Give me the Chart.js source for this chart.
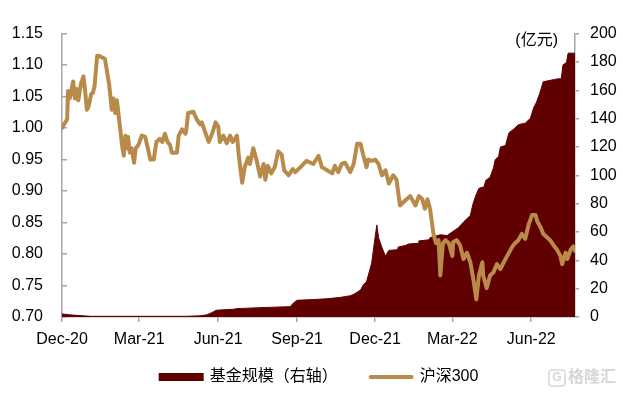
<!DOCTYPE html>
<html lang="zh">
<head>
<meta charset="UTF-8">
<title>基金规模与沪深300</title>
<script src="https://cdn.jsdelivr.net/npm/chart.js@4.4.0/dist/chart.umd.min.js"></script>
<style>
  body { margin: 0; background: #fff; }
  canvas { display: block; }
</style>
</head>
<body>
<canvas id="chart" width="623" height="397"></canvas>
<script>
// x axis ticks (month starts) and their labels
const tickDates = ['2020-12-01', '2021-03-01', '2021-06-01', '2021-09-01', '2021-12-01', '2022-03-01', '2022-06-01'];
const tickLabels = ['Dec-20', 'Mar-21', 'Jun-21', 'Sep-21', 'Dec-21', 'Mar-22', 'Jun-22'];

const seriesNames = ['基金规模（右轴）', '沪深300'];
const unitLabel = '(亿元)';

// 沪深300 (normalised, left axis)
const hsDates = [
  '2020-12-01', '2020-12-07', '2020-12-08', '2020-12-10', '2020-12-14', '2020-12-16', '2020-12-18', '2020-12-20',
  '2020-12-23', '2020-12-26', '2020-12-28', '2020-12-30', '2021-01-01', '2021-01-04', '2021-01-06', '2021-01-08',
  '2021-01-11', '2021-01-14', '2021-01-20', '2021-01-22', '2021-01-25', '2021-01-28', '2021-01-30', '2021-02-01',
  '2021-02-03', '2021-02-06', '2021-02-09', '2021-02-11', '2021-02-13', '2021-02-15', '2021-02-16', '2021-02-18',
  '2021-02-20', '2021-02-23', '2021-02-25', '2021-02-28', '2021-03-04', '2021-03-08', '2021-03-11', '2021-03-14',
  '2021-03-18', '2021-03-21', '2021-03-25', '2021-03-28', '2021-03-31', '2021-04-03', '2021-04-06', '2021-04-08',
  '2021-04-14', '2021-04-16', '2021-04-20', '2021-04-24', '2021-04-25', '2021-04-27', '2021-05-03', '2021-05-07',
  '2021-05-11', '2021-05-13', '2021-05-17', '2021-05-21', '2021-05-25', '2021-05-29', '2021-06-01', '2021-06-03',
  '2021-06-07', '2021-06-11', '2021-06-15', '2021-06-18', '2021-06-23', '2021-06-25', '2021-06-29', '2021-07-02',
  '2021-07-06', '2021-07-08', '2021-07-12', '2021-07-16', '2021-07-20', '2021-07-24', '2021-07-26', '2021-07-29',
  '2021-08-02', '2021-08-06', '2021-08-10', '2021-08-14', '2021-08-17', '2021-08-22', '2021-08-27', '2021-08-30',
  '2021-09-05', '2021-09-12', '2021-09-20', '2021-09-26', '2021-09-30', '2021-10-06', '2021-10-12', '2021-10-15',
  '2021-10-19', '2021-10-23', '2021-10-27', '2021-11-02', '2021-11-06', '2021-11-10', '2021-11-14', '2021-11-17',
  '2021-11-21', '2021-11-23', '2021-11-27', '2021-12-01', '2021-12-05', '2021-12-09', '2021-12-13', '2021-12-17',
  '2021-12-22', '2021-12-26', '2021-12-28', '2021-12-30', '2022-01-05', '2022-01-11', '2022-01-17', '2022-01-21',
  '2022-01-25', '2022-01-28', '2022-01-31', '2022-02-03', '2022-02-07', '2022-02-10', '2022-02-13', '2022-02-15',
  '2022-02-18', '2022-02-21', '2022-02-25', '2022-03-01', '2022-03-02', '2022-03-06', '2022-03-10', '2022-03-14',
  '2022-03-18', '2022-03-22', '2022-03-26', '2022-03-29', '2022-04-01', '2022-04-05', '2022-04-06', '2022-04-10',
  '2022-04-14', '2022-04-18', '2022-04-22', '2022-04-26', '2022-04-30', '2022-05-04', '2022-05-10', '2022-05-13',
  '2022-05-17', '2022-05-21', '2022-05-25', '2022-05-29', '2022-06-02', '2022-06-06', '2022-06-08', '2022-06-12',
  '2022-06-15', '2022-06-19', '2022-06-23', '2022-06-27', '2022-07-01', '2022-07-05', '2022-07-07', '2022-07-11',
  '2022-07-13', '2022-07-17', '2022-07-20', '2022-07-22'
];
const hsValues = [
  1.000, 1.014, 1.059, 1.047, 1.074, 1.047, 1.062, 1.044,
  1.070, 1.082, 1.059, 1.029, 1.034, 1.054, 1.056, 1.067,
  1.115, 1.114, 1.110, 1.094, 1.069, 1.029, 1.047, 1.024,
  1.044, 1.009, 0.973, 0.956, 0.988, 0.968, 0.986, 0.961,
  0.968, 0.945, 0.968, 0.973, 0.988, 0.986, 0.968, 0.950,
  0.950, 0.978, 0.983, 0.978, 0.991, 0.978, 0.973, 0.961,
  0.961, 0.988, 0.998, 0.991, 0.998, 1.024, 1.026, 1.014,
  1.006, 1.009, 0.993, 0.978, 0.991, 1.009, 1.003, 0.978,
  0.988, 0.976, 0.988, 0.978, 0.988, 0.958, 0.913, 0.938,
  0.953, 0.943, 0.968, 0.948, 0.923, 0.943, 0.918, 0.940,
  0.928, 0.938, 0.963, 0.958, 0.933, 0.925, 0.935, 0.930,
  0.938, 0.948, 0.943, 0.956, 0.938, 0.933, 0.928, 0.940,
  0.930, 0.943, 0.945, 0.930, 0.943, 0.975, 0.975, 0.958,
  0.938, 0.950, 0.948, 0.950, 0.943, 0.925, 0.933, 0.912,
  0.925, 0.918, 0.897, 0.877, 0.885, 0.892, 0.877, 0.892,
  0.887, 0.872, 0.887, 0.872, 0.832, 0.817, 0.822, 0.766,
  0.817, 0.822, 0.817, 0.797, 0.819, 0.822, 0.814, 0.792,
  0.802, 0.787, 0.756, 0.728, 0.766, 0.787, 0.766, 0.746,
  0.766, 0.771, 0.784, 0.776, 0.787, 0.797, 0.812, 0.817,
  0.822, 0.832, 0.824, 0.847, 0.862, 0.862, 0.852, 0.842,
  0.832, 0.827, 0.822, 0.814, 0.807, 0.797, 0.784, 0.802,
  0.792, 0.807, 0.812, 0.805
];

// fund size, 亿元 (right axis)
const fundDates = [
  '2020-12-01', '2020-12-10', '2020-12-22', '2021-01-03', '2021-04-25', '2021-05-10', '2021-05-19', '2021-05-25',
  '2021-05-30', '2021-06-19', '2021-06-23', '2021-07-20', '2021-08-24', '2021-08-28', '2021-09-01', '2021-09-20',
  '2021-10-06', '2021-10-21', '2021-11-02', '2021-11-06', '2021-11-14', '2021-11-17', '2021-11-21', '2021-11-27',
  '2021-11-30', '2021-12-03', '2021-12-05', '2021-12-09', '2021-12-13', '2021-12-17', '2021-12-27', '2021-12-28',
  '2022-01-05', '2022-01-09', '2022-01-20', '2022-01-21', '2022-02-02', '2022-02-03', '2022-02-15', '2022-02-23',
  '2022-03-02', '2022-03-08', '2022-03-14', '2022-03-22', '2022-03-25', '2022-03-28', '2022-04-01', '2022-04-07',
  '2022-04-09', '2022-04-14', '2022-04-18', '2022-04-20', '2022-04-24', '2022-04-26', '2022-05-02', '2022-05-06',
  '2022-05-11', '2022-05-17', '2022-05-25', '2022-05-31', '2022-06-04', '2022-06-07', '2022-06-11', '2022-06-15',
  '2022-06-23', '2022-07-03', '2022-07-06', '2022-07-08', '2022-07-12', '2022-07-14', '2022-07-21', '2022-07-22'
];
const fundValues = [
  2.2, 1.5, 1.0, 0.5, 0.5, 0.8, 1.5, 3.2,
  4.8, 5.5, 5.9, 6.6, 7.3, 10, 11.8, 12.3,
  12.9, 13.8, 15, 16, 19, 22.4, 25, 38,
  52, 65, 56, 49, 43, 47, 47.5, 49.4,
  50.4, 51.5, 52, 53.7, 54.5, 56, 58, 57.5,
  60.5, 63, 67, 71.7, 79.6, 85.2, 90.8, 91.9,
  96.4, 98.6, 105.4, 111, 113.3, 120, 121, 130,
  132.3, 135.7, 136.8, 140.2, 148, 151.4, 158, 166,
  167, 168.2, 168, 178, 179.5, 186.2, 186.2, 186
];

const FONT = "'Liberation Sans', Arial, 'Noto Sans CJK SC', sans-serif";
const AXIS_GREY = '#a6a6a6';

function dayOf(s) {
  const [y, m, d] = s.split('-').map(Number);
  return (Date.UTC(y, m - 1, d) - Date.UTC(2020, 11, 1)) / 86400000;
}

function toPoints(dates, values) {
  return dates.map((d, i) => ({ x: dayOf(d), y: values[i] }));
}

// legend, unit label and watermark drawn under the plot
const extrasPlugin = {
  id: 'extras',
  afterDraw(chart) {
    const ctx = chart.ctx;
    const area = chart.chartArea;
    ctx.save();
    ctx.font = '16px ' + FONT;
    ctx.textBaseline = 'middle';

    const y = chart.height - 20;
    const boxW = 45, gap = 6, itemGap = 31;
    const sets = chart.data.datasets;
    const widths = sets.map(ds => boxW + gap + ctx.measureText(ds.label).width);
    const total = widths.reduce((a, b) => a + b, 0) + itemGap * (widths.length - 1);
    let x = (area.left + area.right) / 2 - total / 2;
    sets.forEach((ds, i) => {
      if (ds.fill) {
        ctx.fillStyle = ds.backgroundColor;
        ctx.fillRect(x, y - 4, boxW, 8);
      } else {
        ctx.strokeStyle = ds.borderColor;
        ctx.lineWidth = 4;
        ctx.lineCap = 'round';
        ctx.beginPath();
        ctx.moveTo(x + 2, y);
        ctx.lineTo(x + boxW - 2, y);
        ctx.stroke();
      }
      ctx.fillStyle = '#000';
      ctx.textAlign = 'left';
      ctx.fillText(ds.label, x + boxW + gap, y);
      x += widths[i] + itemGap;
    });

    // unit of the right axis
    ctx.textAlign = 'right';
    ctx.fillText(unitLabel, area.right - 17, area.top + 7);

    // watermark
    ctx.fillStyle = '#d6d6d6';
    ctx.strokeStyle = '#d6d6d6';
    ctx.lineWidth = 1.5;
    ctx.beginPath();
    ctx.roundRect(549, y - 7, 16, 16, 3);
    ctx.stroke();
    ctx.font = 'bold 12px ' + FONT;
    ctx.textAlign = 'center';
    ctx.fillText('G', 557, y + 1);
    ctx.font = 'bold 16px ' + FONT;
    ctx.textAlign = 'left';
    ctx.fillText('格隆汇', 568, y + 1);
    ctx.restore();
  }
};

const tickFont = { size: 16, family: FONT };

new Chart(document.getElementById('chart'), {
  type: 'line',
  data: {
    datasets: [
      {
        label: seriesNames[0],
        data: toPoints(fundDates, fundValues),
        yAxisID: 'y1',
        fill: 'origin',
        backgroundColor: '#600000',
        borderColor: '#600000',
        borderWidth: 1,
        pointRadius: 0,
        tension: 0,
        order: 2
      },
      {
        label: seriesNames[1],
        data: toPoints(hsDates, hsValues),
        yAxisID: 'y',
        fill: false,
        borderColor: '#b98b4a',
        borderWidth: 4,
        borderJoinStyle: 'round',
        borderCapStyle: 'round',
        pointRadius: 0,
        tension: 0,
        order: 1
      }
    ]
  },
  options: {
    responsive: false,
    animation: false,
    layout: { padding: { top: 20, bottom: 40, left: 0, right: 0 } },
    plugins: {
      legend: { display: false },
      tooltip: { enabled: false }
    },
    scales: {
      x: {
        type: 'linear',
        min: 0,
        max: dayOf(hsDates[hsDates.length - 1]),
        afterBuildTicks: s => { s.ticks = tickDates.map(d => ({ value: dayOf(d) })); },
        afterFit: s => { s.height = 40; },
        ticks: {
          callback: (v, i) => tickLabels[i],
          color: '#000',
          font: tickFont,
          padding: 8,
          maxRotation: 0,
          autoSkip: false
        },
        grid: { drawOnChartArea: false, drawTicks: true, tickLength: 5, color: AXIS_GREY, lineWidth: 1.5 },
        border: { color: AXIS_GREY, width: 1.5 }
      },
      y: {
        position: 'left',
        min: 0.7,
        max: 1.15,
        afterFit: s => { s.width = 62; },
        ticks: {
          stepSize: 0.05,
          callback: v => v.toFixed(2),
          color: '#000',
          font: tickFont,
          padding: 24
        },
        grid: { drawOnChartArea: false, drawTicks: true, tickLength: -5, color: AXIS_GREY, lineWidth: 1.5 },
        border: { color: AXIS_GREY, width: 1.5 }
      },
      y1: {
        position: 'right',
        min: 0,
        max: 200,
        afterFit: s => { s.width = 48; },
        ticks: {
          stepSize: 20,
          color: '#000',
          font: tickFont,
          padding: 11
        },
        grid: { drawOnChartArea: false, drawTicks: true, tickLength: 4, color: AXIS_GREY, lineWidth: 1.5 },
        border: { color: AXIS_GREY, width: 1.5 }
      }
    }
  },
  plugins: [extrasPlugin]
});
</script>
</body>
</html>
